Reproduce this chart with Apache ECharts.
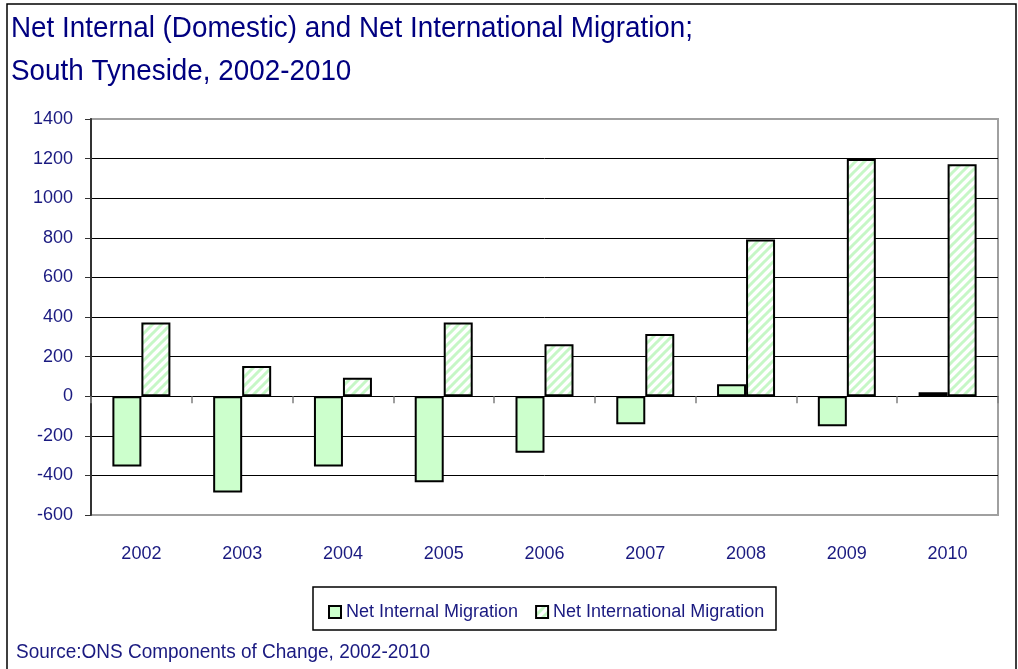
<!DOCTYPE html>
<html><head><meta charset="utf-8">
<script src="https://cdn.jsdelivr.net/npm/echarts@6/dist/echarts.min.js"></script>
<style>html,body{margin:0;padding:0;background:#fff}#c{width:1018px;height:669px}</style>
</head><body><div id="c"></div>
<script>
const years = ['2002','2003','2004','2005','2006','2007','2008','2009','2010'];
const netInternal = [-355, -486, -355, -435, -285, -142, 60, -152, 20];
const netInternational = [372, 152, 93, 372, 263, 314, 792, 1198, 1172];
const yTicks = {min: -600, max: 1400, interval: 200};

const NAVY = '#1a1a80';
const SANS = "'Liberation Sans',Arial,sans-serif";

function hatch() {
  const s = 9;
  const cv = document.createElement('canvas');
  cv.width = s; cv.height = s;
  const g = cv.getContext('2d');
  g.fillStyle = '#ffffff'; g.fillRect(0,0,s,s);
  g.strokeStyle = '#c6f7c6'; g.lineWidth = 3;
  g.beginPath();
  g.moveTo(-2, s+2); g.lineTo(s+2, -2);
  g.moveTo(-2, 2); g.lineTo(2, -2);
  g.moveTo(s-2, s+2); g.lineTo(s+2, s-2);
  g.stroke();
  return cv;
}

function measure(text, font) {
  const cv = document.createElement('canvas');
  const g = cv.getContext('2d');
  g.font = font;
  return g.measureText(text).width;
}

const title1 = 'Net Internal (Domestic) and Net International Migration;';
const title2 = 'South Tyneside, 2002-2010';
const source = 'Source:ONS Components of Change, 2002-2010';
const titleFont = '29px ' + SANS;
const sourceFont = '20px ' + SANS;
const tScale = 682 / measure(title1, titleFont);
const sScale = 414 / measure(source, sourceFont);

const nSplit = (yTicks.max - yTicks.min) / yTicks.interval + 1;
const splitColors = [];
for (let i = 0; i < nSplit; i++) splitColors.push(i === 0 || i === nSplit - 1 ? '#a0a0a0' : '#000');

const chart = echarts.init(document.getElementById('c'), null, {renderer: 'canvas'});
chart.setOption({
  animation: false,
  backgroundColor: '#fff',
  textStyle: {fontFamily: SANS},
  grid: {left: 91, right: 20, top: 119, bottom: 154, show: true, borderColor: '#a0a0a0', borderWidth: 2, backgroundColor: 'transparent'},
  legend: {
    left: 323, top: 598, itemWidth: 12, itemHeight: 12, itemGap: 17, icon: 'rect',
    textStyle: {color: NAVY, fontSize: 18, fontFamily: SANS},
    data: ['Net Internal Migration', 'Net International Migration']
  },
  xAxis: [
    {type: 'category', data: years, position: 'bottom',
     axisLine: {show: false, onZero: false}, axisTick: {show: false},
     axisLabel: {color: NAVY, fontSize: 18, margin: 30, fontFamily: SANS}},
    {type: 'category', data: years, position: 'bottom',
     axisLine: {show: true, onZero: true, lineStyle: {color: '#000', width: 1}},
     axisTick: {show: true, length: 7, lineStyle: {color: '#808080', width: 1.5}},
     axisLabel: {show: false}}
  ],
  yAxis: {
    type: 'value', min: yTicks.min, max: yTicks.max, interval: yTicks.interval,
    axisLine: {show: true, lineStyle: {color: '#333', width: 2}},
    axisTick: {show: true, length: 6, lineStyle: {color: '#333'}},
    axisLabel: {color: NAVY, fontSize: 18, margin: 18, fontFamily: SANS, formatter: v => String(v)},
    splitLine: {show: true, lineStyle: {color: splitColors, width: 1}}
  },
  series: [
    {name: 'Net Internal Migration', type: 'bar', data: netInternal, barWidth: 29, barGap: '0%',
     itemStyle: {color: '#ccffcc', borderColor: '#000', borderWidth: 2}},
    {name: 'Net International Migration', type: 'bar', data: netInternational, barWidth: 29, barGap: '0%',
     itemStyle: {color: {image: hatch(), repeat: 'repeat'}, borderColor: '#000', borderWidth: 2}}
  ],
  graphic: [
    {type: 'rect', shape: {x: 7, y: 4, width: 1009, height: 680}, style: {fill: 'none', stroke: '#000', lineWidth: 1.5}, silent: true},
    {type: 'rect', shape: {x: 313, y: 587, width: 463, height: 43}, style: {fill: 'none', stroke: '#000', lineWidth: 1.5}, silent: true},
    {type: 'text', x: 11, y: 29, scaleX: tScale, style: {text: title1, fill: '#000080', font: titleFont, verticalAlign: 'middle'}},
    {type: 'text', x: 11, y: 72, scaleX: tScale, style: {text: title2, fill: '#000080', font: titleFont, verticalAlign: 'middle'}},
    {type: 'text', x: 16, y: 652, scaleX: sScale, style: {text: source, fill: NAVY, font: sourceFont, verticalAlign: 'middle'}}
  ]
});
</script></body></html>
